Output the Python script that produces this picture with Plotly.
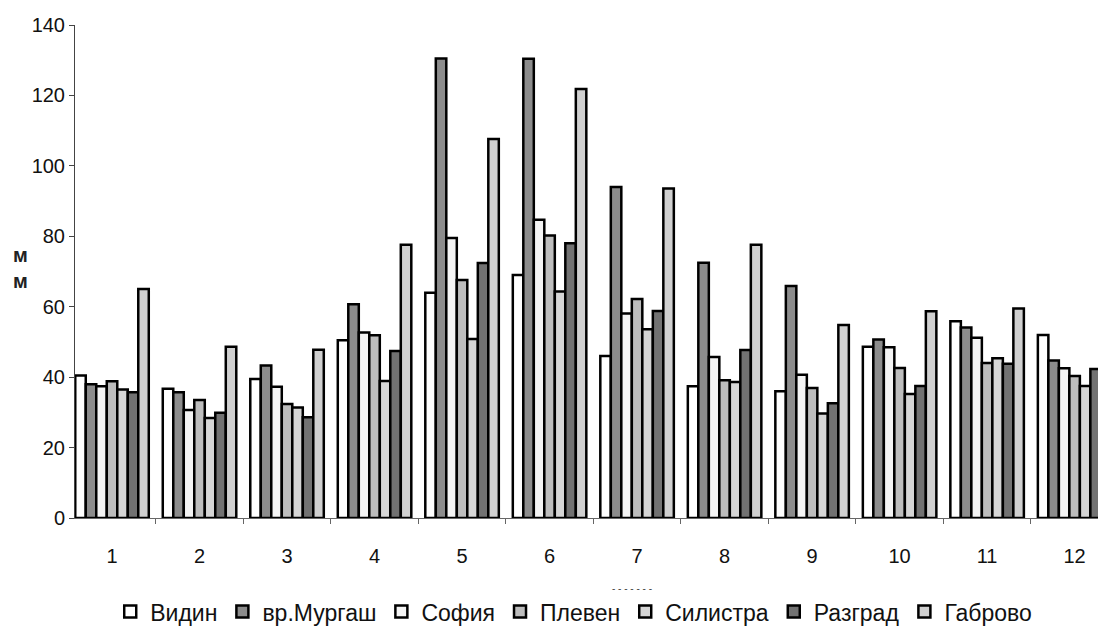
import plotly.graph_objects as go

months = ["1", "2", "3", "4", "5", "6", "7", "8", "9", "10", "11", "12"]
series_names = ["Видин", "вр.Мургаш", "София", "Плевен", "Силистра", "Разград", "Габрово"]

vidin    = [40.5, 36.7, 39.5, 50.5, 64.0, 69.0, 46.0, 37.4, 36.0, 48.6, 55.9, 52.0]
murgash  = [38.0, 35.7, 43.3, 60.7, 130.5, 130.4, 94.0, 72.5, 65.9, 50.7, 54.1, 44.7]
sofia    = [37.4, 30.7, 37.3, 52.7, 79.5, 84.7, 58.1, 45.7, 40.7, 48.5, 51.2, 42.5]
pleven   = [38.8, 33.5, 32.4, 51.9, 67.6, 80.2, 62.2, 39.1, 36.9, 42.6, 44.0, 40.3]
silistra = [36.5, 28.4, 31.4, 38.9, 50.8, 64.3, 53.6, 38.6, 29.7, 35.2, 45.4, 37.5]
razgrad  = [35.7, 29.9, 28.6, 47.4, 72.4, 78.0, 58.8, 47.7, 32.6, 37.5, 43.8, 42.3]
gabrovo  = [65.0, 48.6, 47.8, 77.6, 107.6, 121.8, 93.6, 77.6, 54.8, 58.7, 59.5, 55.4]

y_ticks = [0, 20, 40, 60, 80, 100, 120, 140]

all_values = [vidin, murgash, sofia, pleven, silistra, razgrad, gabrovo]
fills = ["#ffffff", "#8c8c8c", "#f4f4f4", "#bdbdbd", "#d6d6d6", "#727272", "#d0d0d0"]

fig = go.Figure()
for name, vals, col in zip(series_names, all_values, fills):
    fig.add_trace(go.Bar(
        x=months, y=vals, name=name,
        marker=dict(color=col, line=dict(color="#000000", width=2.5)),
    ))

fig.update_layout(
    width=1106, height=638,
    paper_bgcolor="white", plot_bgcolor="white",
    barmode="group", bargap=0.16, bargroupgap=0.0,
    margin=dict(l=67, r=0, t=17, b=128, autoexpand=False),
    font=dict(family="Liberation Sans, Arial, sans-serif", color="#111111", size=20),
    showlegend=True,
    legend=dict(orientation="h", x=0.48, xanchor="center", y=-0.19, yanchor="middle",
                font=dict(size=23), itemwidth=30, traceorder="normal",
                bgcolor="rgba(0,0,0,0)"),
    xaxis=dict(
        type="category", range=[-0.423, 11.45], automargin=False,
        showline=True, linecolor="#666666", linewidth=1,
        ticks="outside", ticklen=5, tickcolor="#666666", tickson="boundaries",
        ticklabelstandoff=20,
        tickfont=dict(size=20), showgrid=False, zeroline=False,
    ),
    yaxis=dict(
        range=[0, 140], tickvals=y_ticks, automargin=False,
        showline=True, linecolor="#444444", linewidth=1,
        ticks="outside", ticklen=5, tickcolor="#444444",
        tickfont=dict(size=20), showgrid=False, zeroline=False,
    ),
    annotations=[
        dict(text="<b>м<br>м</b>", xref="paper", yref="paper", x=-0.052, y=0.507,
             xanchor="center", yanchor="middle", showarrow=False,
             font=dict(size=20, color="#222222")),
        dict(text="- - - - - - -", xref="paper", yref="paper", x=0.536, y=-0.142,
             xanchor="center", yanchor="middle", showarrow=False,
             font=dict(size=10, color="#444444")),
    ],
)

fig.write_html("out.html")
